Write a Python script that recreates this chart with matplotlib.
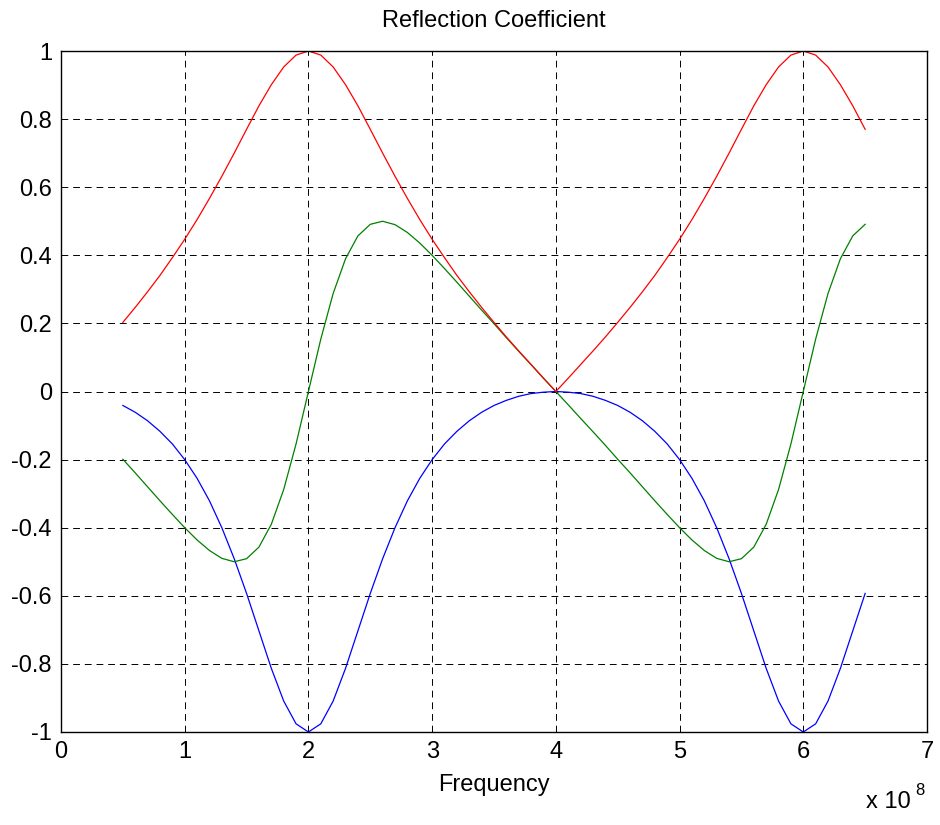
import matplotlib
matplotlib.use("Agg")
import matplotlib.pyplot as plt
import numpy as np

plt.rcParams['font.family'] = ['Liberation Sans', 'DejaVu Sans']

# Frequency in units of 1e8 Hz
freq = [round(0.5 + 0.1 * i, 1) for i in range(61)]

real_part = [
    -0.041, -0.061, -0.086, -0.117, -0.154, -0.200, -0.255, -0.321, -0.400, -0.491,
    -0.593, -0.703, -0.813, -0.909, -0.976, -1.000,
    -0.976, -0.909, -0.813, -0.703, -0.593, -0.491, -0.400, -0.321, -0.255, -0.200,
    -0.154, -0.117, -0.086, -0.061, -0.041, -0.026, -0.014, -0.006, -0.002,
    0.000,
    -0.002, -0.006, -0.014, -0.026, -0.041, -0.061, -0.086, -0.117, -0.154, -0.200,
    -0.255, -0.321, -0.400, -0.491, -0.593, -0.703, -0.813, -0.909, -0.976, -1.000,
    -0.976, -0.909, -0.813, -0.703, -0.593,
]

imag_part = [
    -0.199, -0.239, -0.280, -0.321, -0.361, -0.400, -0.436, -0.467, -0.490, -0.500,
    -0.491, -0.457, -0.390, -0.288, -0.154, 0.000,
    0.154, 0.288, 0.390, 0.457, 0.491, 0.500, 0.490, 0.467, 0.436, 0.400,
    0.361, 0.321, 0.280, 0.239, 0.199, 0.158, 0.118, 0.079, 0.039,
    0.000,
    -0.039, -0.079, -0.118, -0.158, -0.199, -0.239, -0.280, -0.321, -0.361, -0.400,
    -0.436, -0.467, -0.490, -0.500, -0.491, -0.457, -0.390, -0.288, -0.154, 0.000,
    0.154, 0.288, 0.390, 0.457, 0.491,
]

magnitude = [
    0.203, 0.247, 0.293, 0.341, 0.393, 0.447, 0.505, 0.567, 0.632, 0.700,
    0.770, 0.839, 0.901, 0.953, 0.988, 1.000,
    0.988, 0.953, 0.901, 0.839, 0.770, 0.700, 0.632, 0.567, 0.505, 0.447,
    0.393, 0.341, 0.293, 0.247, 0.203, 0.160, 0.119, 0.079, 0.039,
    0.000,
    0.039, 0.079, 0.119, 0.160, 0.203, 0.247, 0.293, 0.341, 0.393, 0.447,
    0.505, 0.567, 0.632, 0.700, 0.770, 0.839, 0.901, 0.953, 0.988, 1.000,
    0.988, 0.953, 0.901, 0.839, 0.770,
]

xticks = [0, 1, 2, 3, 4, 5, 6, 7]
yticks = [-1, -0.8, -0.6, -0.4, -0.2, 0, 0.2, 0.4, 0.6, 0.8, 1]
ytick_labels = ['-1', '-0.8', '-0.6', '-0.4', '-0.2', '0', '0.2', '0.4', '0.6', '0.8', '1']

FS = 17

fig = plt.figure(figsize=(9.4, 8.25), dpi=100)
ax = fig.add_axes([61/940, 1 - 732/825, (927 - 61)/940, (732 - 51)/825])

ax.plot(freq, real_part, color='#0000ff', lw=0.9)
ax.plot(freq, imag_part, color='#008000', lw=0.9)
ax.plot(freq, magnitude, color='#ff0000', lw=0.9)

ax.set_xlim(0, 7)
ax.set_ylim(-1, 1)
ax.set_xticks(xticks)
ax.set_xticklabels([str(t) for t in xticks])
ax.set_yticks(yticks)
ax.set_yticklabels(ytick_labels)
ax.tick_params(axis='both', length=0, labelsize=FS, pad=6.5, colors='black')
ax.grid(True, color='black', linestyle=(0, (7, 5)), linewidth=0.7)
for s in ax.spines.values():
    s.set_linewidth(1.0)
    s.set_color('black')

ax.set_title('Reflection Coefficient', fontsize=FS, pad=17)
ax.set_xlabel('Frequency', fontsize=FS)
ax.xaxis.set_label_coords(0.5, -0.062)

fig.text(866/940, 1 - 808/825, 'x 10', fontsize=FS, ha='left', va='baseline')
fig.text(915/940, 1 - 795/825, '8', fontsize=12, ha='left', va='baseline')

fig.savefig('out.png', dpi=100, facecolor='white')
